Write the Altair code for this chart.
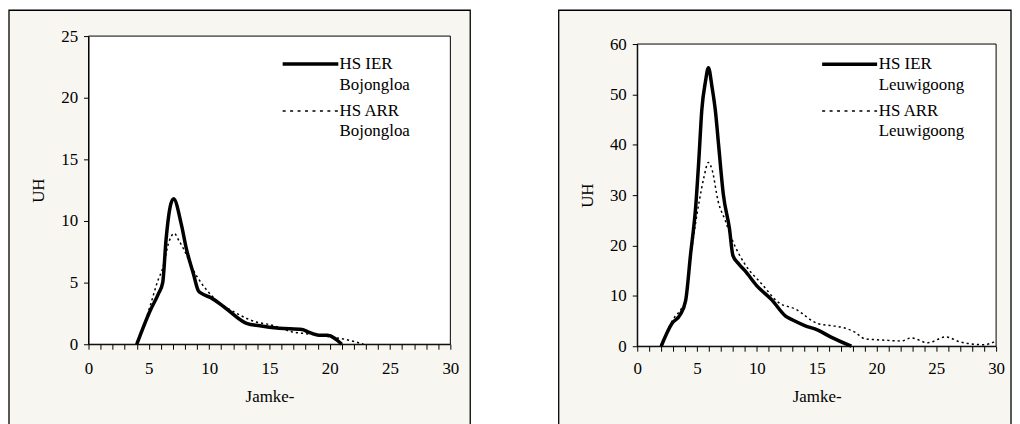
import altair as alt
import pandas as pd

# ---------------- data ----------------
# Left panel: Bojongloa
boj_ier_x = [4, 5.1, 5.8, 6.15, 6.43, 6.76, 7.05, 7.7, 8.1, 8.7, 9.1, 9.4, 10.1, 11.4, 13.1, 14.2, 15.8, 17.7, 18.2, 19.1, 19.8, 21.0]
boj_ier_y = [0, 2.7, 4.1, 5.0, 8.5, 11.1, 11.8, 9.7, 7.8, 5.7, 4.35, 4.1, 3.8, 2.9, 1.7, 1.5, 1.3, 1.2, 1.0, 0.73, 0.73, 0]
boj_arr_x = [4, 4.3, 5.2, 5.8, 6.1, 6.7, 7.1, 7.5, 7.9, 8.7, 9.4, 10.2, 12.3, 13.9, 15.0, 16.9, 18.0, 19, 20, 21.0, 22.1, 22.8]
boj_arr_y = [0, 0.7, 3.4, 5.3, 6.0, 8.4, 9.0, 8.4, 7.7, 6.0, 4.9, 3.95, 2.5, 1.8, 1.6, 1.0, 0.86, 0.75, 0.6, 0.45, 0.2, 0]

# Right panel: Leuwigoong
leu_ier_x = [2, 2.9, 3.6, 4.05, 4.46, 4.88, 5.15, 5.4, 5.7, 5.95, 6.25, 6.54, 6.8, 7.2, 7.7, 8.0, 8.5, 9.0, 10.0, 11.25, 12.4, 13.0, 14.0, 15.1, 16.2, 17.9]
leu_ier_y = [0, 4.5, 6.3, 9.1, 18.3, 27.5, 37, 47, 52.5, 55.3, 51.5, 46.6, 40, 30.1, 23.5, 18, 16.3, 15, 12, 9.2, 6, 5.2, 4.1, 3.2, 1.8, 0]
leu_arr_x = [2, 2.94, 3.77, 4.05, 4.4, 4.88, 5.2, 5.57, 5.95, 6.26, 6.76, 7.37, 7.93, 9.0, 10.4, 11.8, 13.2, 15.1, 16.2, 17.2, 18.2, 19.0, 20.7, 22.1, 22.9, 24.3, 25.8, 27.0, 29.0, 30.0]
leu_arr_y = [0, 5.1, 7.8, 9.2, 16.3, 24.5, 29, 33.5, 36.5, 35, 28.8, 24.9, 21.2, 16.3, 12.4, 8.7, 7.4, 4.5, 4.1, 3.7, 2.8, 1.5, 1.2, 1.05, 1.65, 0.7, 1.85, 0.85, 0.3, 1.05]

boj_labels = ["HS IER\nBojongloa", "HS ARR\nBojongloa"]
leu_labels = ["HS IER\nLeuwigoong", "HS ARR\nLeuwigoong"]
x_title = "Jamke-"
y_title = "UH"

FONT = "Liberation Serif"
FRAME_FILL = "#f7f6f1"
one = pd.DataFrame({"a": [0]})


def panel(ier_x, ier_y, arr_x, arr_y, labels, w, h, top, ymax, ystep,
          frame, leg, x_label_pad, x_title_y):
    fl, fr, ft, fb = frame
    H = h + top  # view height; the plot area starts `top` px below the view top
    frame_rect = alt.Chart(one).mark_rect(
        fill=FRAME_FILL, stroke="black", strokeWidth=1.3
    ).encode(x=alt.value(fl), x2=alt.value(fr), y=alt.value(ft), y2=alt.value(fb))
    plot_rect = alt.Chart(one).mark_rect(
        fill="white", stroke="black", strokeWidth=1
    ).encode(x=alt.value(0), x2=alt.value(w), y=alt.value(top), y2=alt.value(H))

    xs = alt.Scale(domain=[0, 30], nice=False, zero=False)
    ys = alt.Scale(domain=[0, ymax], nice=False, range=[H, top])
    xax = alt.Axis(
        values=list(range(0, 31)),
        labelExpr="datum.value % 5 === 0 ? datum.label : ''",
        tickSize=5, labelPadding=x_label_pad, labelBaseline="alphabetic",
        labelFlush=False, labelOverlap=False, labelBound=False, grid=False,
        title=x_title, titleY=x_title_y, titleBaseline="alphabetic",
        zindex=1,
    )
    yax = alt.Axis(
        values=list(range(0, ymax + 1, ystep)),
        tickSize=5, labelPadding=6, labelFlush=False, labelOverlap=False,
        grid=False, title=y_title, titleAngle=270, titleX=-50.5, titleY=top + h / 2,
        titleBaseline="middle", titleAlign="center", zindex=1,
    )
    d_ier = pd.DataFrame({"x": ier_x, "y": ier_y})
    d_arr = pd.DataFrame({"x": arr_x, "y": arr_y})
    ier = alt.Chart(d_ier).mark_line(
        color="black", strokeWidth=3.5, interpolate="monotone"
    ).encode(x=alt.X("x:Q", scale=xs, axis=xax), y=alt.Y("y:Q", scale=ys, axis=yax))
    arr = alt.Chart(d_arr).mark_line(
        color="black", strokeWidth=1.5, strokeDash=[2.2, 3], interpolate="monotone"
    ).encode(x=alt.X("x:Q", scale=xs, axis=xax), y=alt.Y("y:Q", scale=ys, axis=yax))

    lx1, lx2, tx, ly1, ly2, tb1, tb2 = leg
    rule1 = alt.Chart(one).mark_rule(color="black", strokeWidth=3.5).encode(
        x=alt.value(lx1), x2=alt.value(lx2), y=alt.value(top + ly1))
    rule2 = alt.Chart(one).mark_rule(color="black", strokeWidth=1.5, strokeDash=[3, 4.5]).encode(
        x=alt.value(lx1), x2=alt.value(lx2), y=alt.value(top + ly2))
    txt_kw = dict(align="left", baseline="alphabetic", font=FONT, fontSize=17,
                  lineBreak="\n", lineHeight=21, color="black")
    t1 = alt.Chart(one).mark_text(**txt_kw).encode(
        x=alt.value(tx), y=alt.value(top + tb1), text=alt.value(labels[0]))
    t2 = alt.Chart(one).mark_text(**txt_kw).encode(
        x=alt.value(tx), y=alt.value(top + tb2), text=alt.value(labels[1]))

    return alt.layer(frame_rect, plot_rect, ier, arr, rule1, rule2, t1, t2).properties(
        width=w, height=H)


left = panel(boj_ier_x, boj_ier_y, boj_arr_x, boj_arr_y, boj_labels,
             364, 310, 0, 25, 5,
             frame=(-80, 384, -26, 392),
             leg=(195.3, 251.3, 252.5, 28, 75.3, 33.3, 80),
             x_label_pad=24, x_title_y=58)
right = panel(leu_ier_x, leu_ier_y, leu_arr_x, leu_arr_y, leu_labels,
              361, 304, 8, 60, 10,
              frame=(-79, 376, -26, 392),
              leg=(186, 241.3, 243, 20.3, 67.3, 25.3, 72),
              x_label_pad=22, x_title_y=55.5)

chart = alt.hconcat(left, right, spacing=87).properties(
    padding=0, background="white"
).configure_view(stroke=None).configure_axis(
    domainColor="black", tickColor="black", domainWidth=1, tickWidth=1,
    labelColor="black", labelFont=FONT, labelFontSize=17,
    labelOverlap=False,
    titleColor="black", titleFont=FONT, titleFontSize=17, titleFontWeight="normal",
)

chart.save("out.html", embed_options={"renderer": "svg", "actions": False})
